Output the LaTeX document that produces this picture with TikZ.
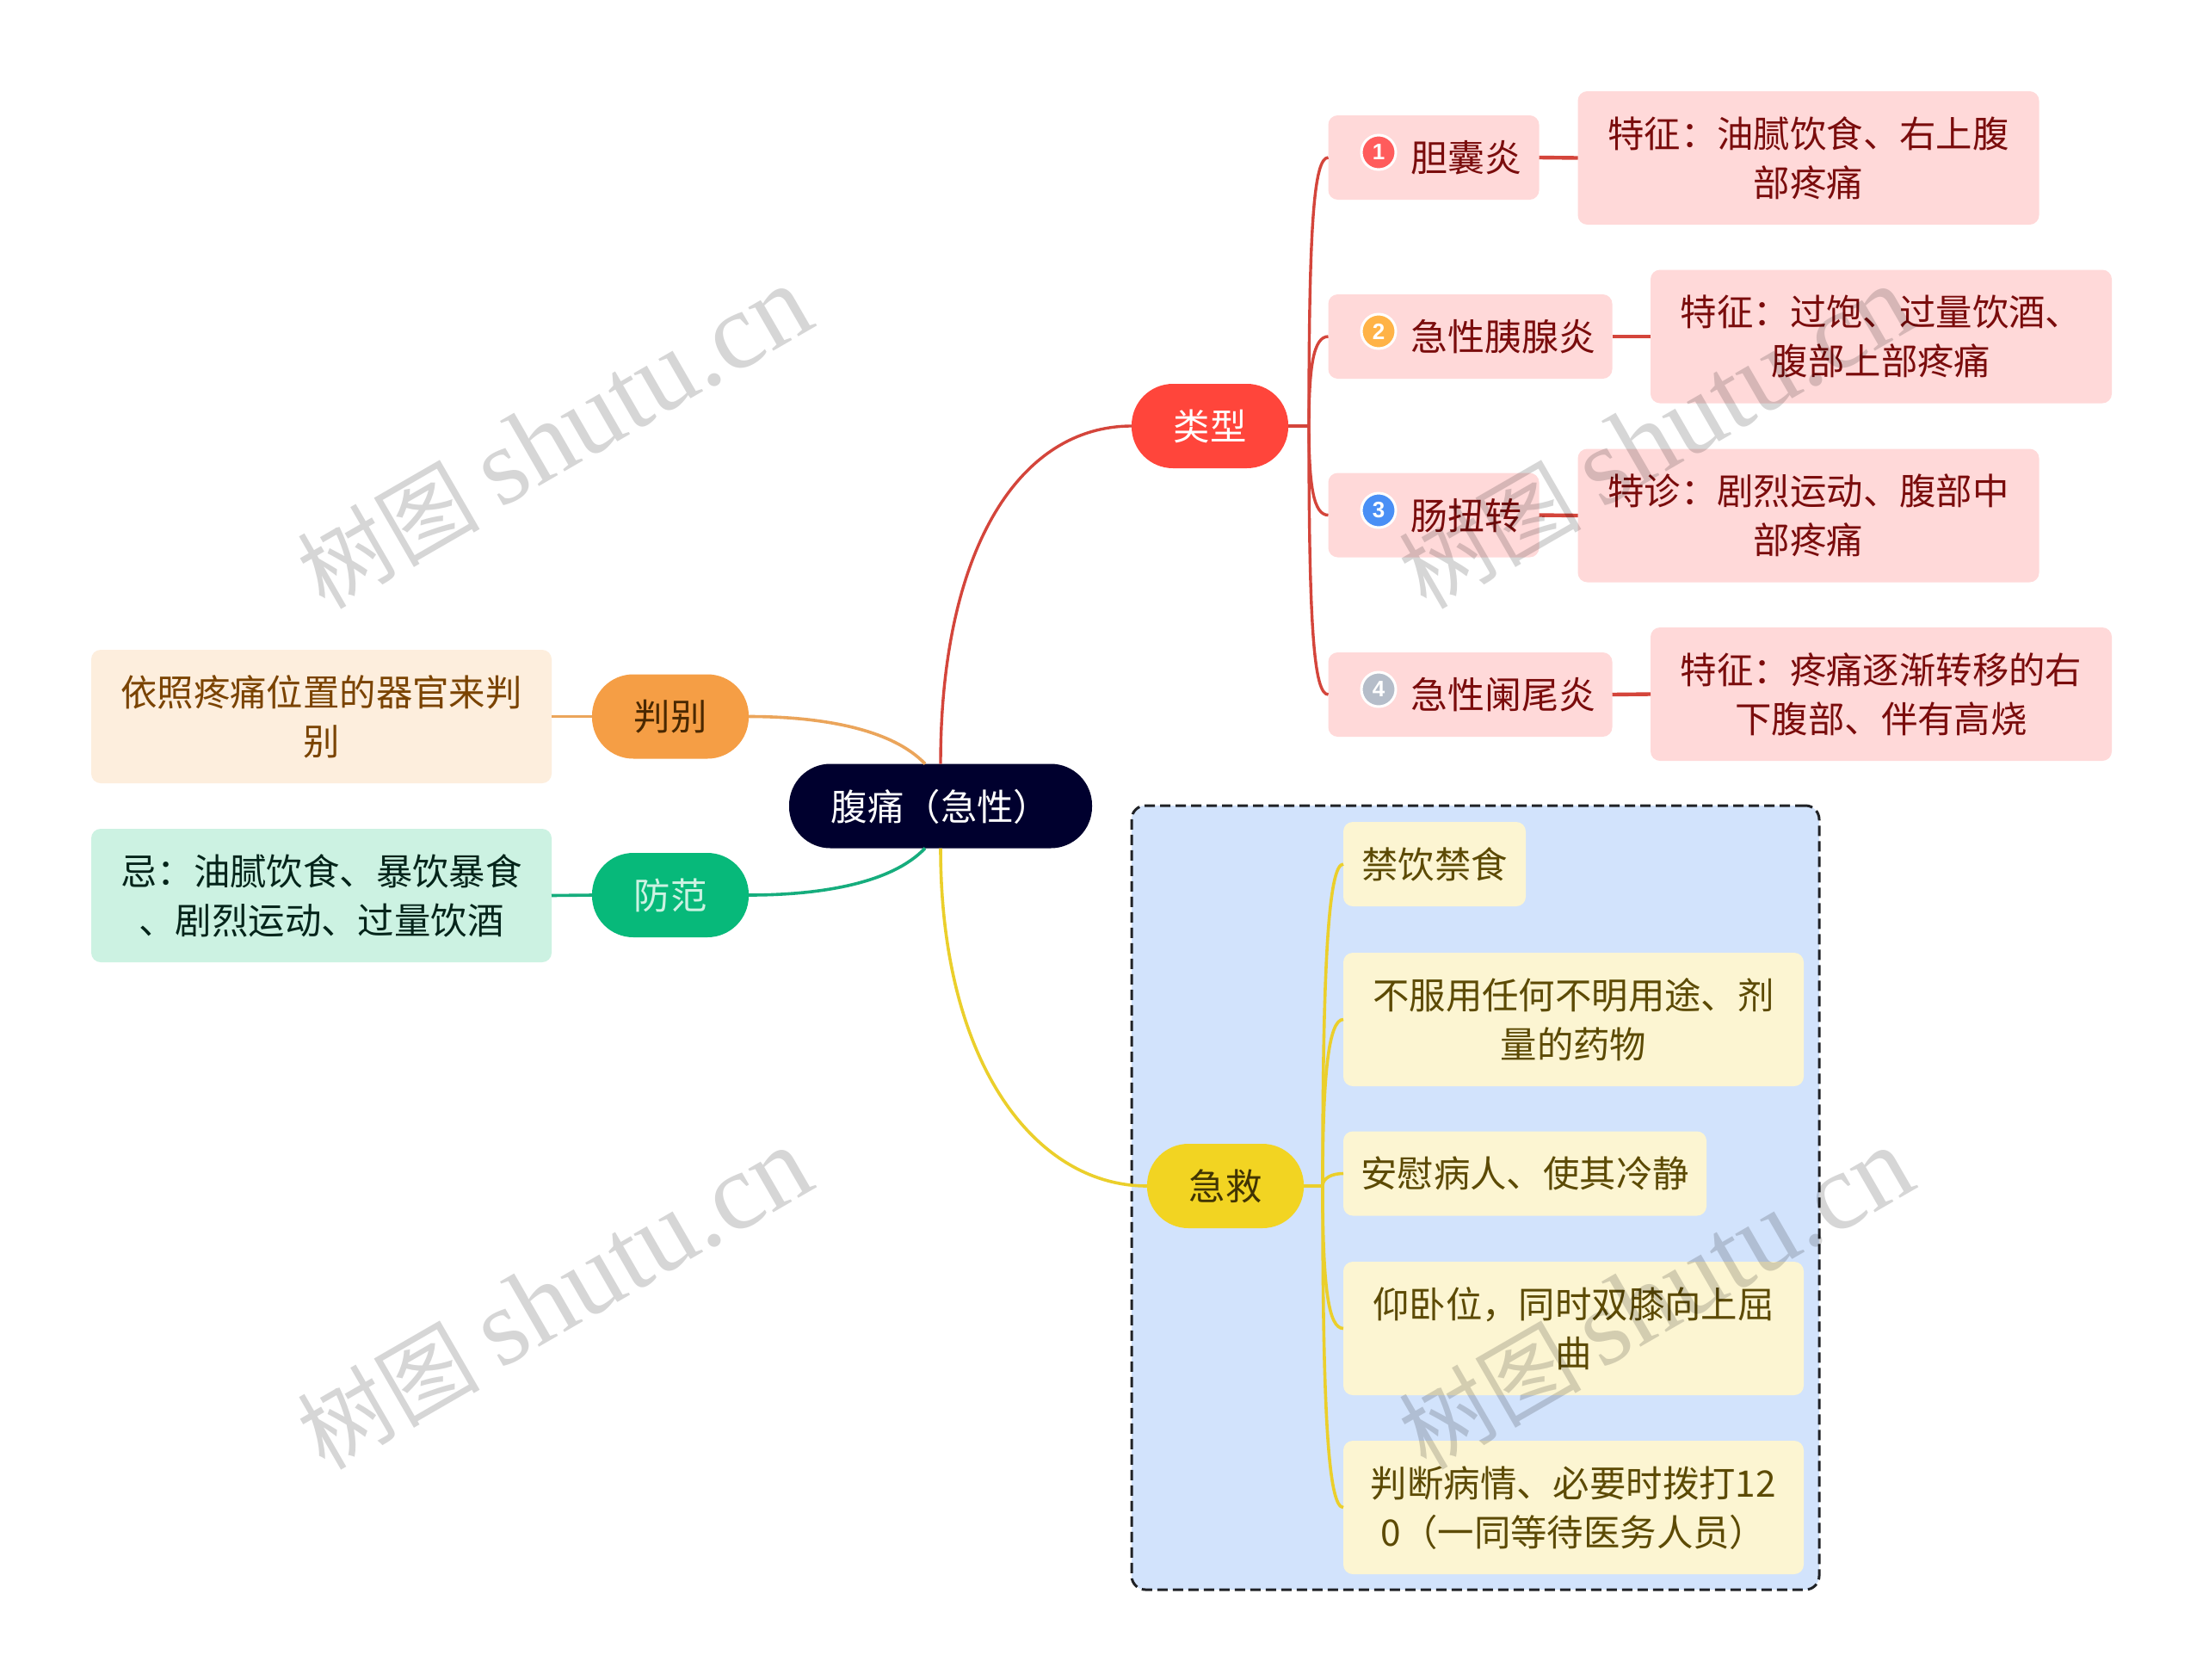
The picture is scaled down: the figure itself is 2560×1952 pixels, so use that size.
\documentclass[tikz,border=0pt]{standalone}
\usepackage{fontspec}
\setmainfont{Noto Sans CJK SC}
\newfontfamily\wmcjk{Noto Sans CJK SC}
\newfontfamily\wmlat{Liberation Serif}
\newfontfamily\numfont{Liberation Sans}
\definecolor{cRed}{HTML}{FF453B}
\definecolor{cRedBox}{HTML}{FFD9D9}
\definecolor{cRedTxt}{HTML}{7A0C0C}
\definecolor{cRedLine}{HTML}{D4453B}
\definecolor{cOrg}{HTML}{F59E45}
\definecolor{cOrgBox}{HTML}{FDEEDD}
\definecolor{cOrgTxt}{HTML}{7A4300}
\definecolor{cOrgLine}{HTML}{EBA55B}
\definecolor{cGrn}{HTML}{07B97A}
\definecolor{cGrnBox}{HTML}{CCF2E2}
\definecolor{cGrnTxt}{HTML}{04241A}
\definecolor{cGrnLine}{HTML}{16AD7D}
\definecolor{cYel}{HTML}{F2D422}
\definecolor{cYelBox}{HTML}{FCF5D2}
\definecolor{cYelTxt}{HTML}{5C4A04}
\definecolor{cYelLine}{HTML}{EBCF2B}
\definecolor{cPanel}{HTML}{D2E3FC}
\definecolor{cDark}{HTML}{00002E}
\definecolor{cBadgeA}{HTML}{FF5C5C}
\definecolor{cBadgeB}{HTML}{FFB347}
\definecolor{cBadgeC}{HTML}{4A8FF5}
\definecolor{cBadgeD}{HTML}{B5BDC9}
\tikzset{
  x=1pt,y=-1pt,
  base/.style={inner sep=0pt,outer sep=0pt,align=center,text depth=3pt,font=\fontsize{42.4}{57}\selectfont},
  pill/.style={base,rounded corners=48pt,minimum height=98pt},
  leaf/.style={base,rounded corners=11pt},
  redleaf/.style={leaf,fill=cRedBox,text=cRedTxt},
  iconleaf/.style={redleaf,font=\fontsize{43}{57}\selectfont},
  orgleaf/.style={leaf,fill=cOrgBox,text=cOrgTxt},
  grnleaf/.style={leaf,fill=cGrnBox,text=cGrnTxt},
  yelleaf/.style={leaf,fill=cYelBox,text=cYelTxt},
  redlink/.style={draw=cRedLine,line width=3.4pt},
  redstub/.style={draw=cRedLine,line width=4.4pt},
  orglink/.style={draw=cOrgLine,line width=3.6pt},
  grnlink/.style={draw=cGrnLine,line width=3.6pt},
  yellink/.style={draw=cYelLine,line width=3.6pt},
  badge/.style={circle,inner sep=0pt,minimum size=40pt,draw=white,line width=3pt,text=white,font=\numfont\bfseries\fontsize{26}{26}\selectfont},
  wmark/.style={rotate=30,text=black,opacity=.16,inner sep=0pt}
}
\begin{document}
\begin{tikzpicture}
\useasboundingbox[fill=white] (0,0) rectangle (2560,1952);
% group panel
\node[draw=black!85!cPanel,fill=cPanel,line width=3pt,dash pattern=on 12pt off 6pt,rounded corners=16pt,minimum width=799pt,minimum height=911pt,inner sep=0pt] (panel) at (1714.5,1391.5) {};
% centre and branches
\node[pill,fill=cDark,text=white,minimum width=352pt] (root) at (1093,936.5) {腹痛（急性）};
\node[pill,fill=cRed,text=white,minimum width=182pt] (lx) at (1406,495) {类型};
\node[pill,fill=cOrg,text=cOrgTxt!60!black,minimum width=182pt] (pb) at (779,832.5) {判别};
\node[pill,fill=cGrn,text=cGrnBox,minimum width=182pt] (ff) at (779,1040) {防范};
\node[pill,fill=cYel,text=cYelTxt!70!black,minimum width=182pt] (jj) at (1424,1378) {急救};
% red leaves
\node[iconleaf,minimum width=245pt,minimum height=98pt,text width=245pt] (a1) at (1666,183) {\hspace*{96pt}胆囊炎\hfill\null};
\node[iconleaf,minimum width=330pt,minimum height=98pt,text width=330pt] (a2) at (1708.5,391) {\hspace*{96pt}急性胰腺炎\hfill\null};
\node[iconleaf,minimum width=245pt,minimum height=98pt,text width=245pt] (a3) at (1666,598.5) {\hspace*{96pt}肠扭转\hfill\null};
\node[iconleaf,minimum width=330pt,minimum height=98pt,text width=330pt] (a4) at (1708.5,807) {\hspace*{96pt}急性阑尾炎\hfill\null};
\node[redleaf,minimum width=536pt,minimum height=155pt] (b1) at (2101.5,183.5) {特征：油腻饮食、右上腹\\部疼痛};
\node[redleaf,minimum width=536pt,minimum height=155pt] (b2) at (2186,391) {特征：过饱、过量饮酒、\\腹部上部疼痛};
\node[redleaf,minimum width=536pt,minimum height=155pt] (b3) at (2101.5,599) {特诊：剧烈运动、腹部中\\部疼痛};
\node[redleaf,minimum width=536pt,minimum height=155pt] (b4) at (2186,806.5) {特征：疼痛逐渐转移的右\\下腹部、伴有高烧};
% badges
\node[badge,fill=cBadgeA] (n1) at (1602,177) {1};
\node[badge,fill=cBadgeB] (n2) at (1602,385) {2};
\node[badge,fill=cBadgeC] (n3) at (1602,593) {3};
\node[badge,fill=cBadgeD] (n4) at (1602,801) {4};
% left leaves
\node[orgleaf,minimum width=535pt,minimum height=155pt] (c1) at (373.5,832.5) {依照疼痛位置的器官来判\\别};
\node[grnleaf,minimum width=535pt,minimum height=155pt] (d1) at (373.5,1040.5) {忌：油腻饮食、暴饮暴食\\、剧烈运动、过量饮酒};
% yellow leaves
\node[yelleaf,minimum width=212pt,minimum height=98pt] (e1) at (1667,1004) {禁饮禁食};
\node[yelleaf,minimum width=535pt,minimum height=155pt] (e2) at (1828.5,1184.5) {不服用任何不明用途、剂\\量的药物};
\node[yelleaf,minimum width=422pt,minimum height=98pt] (e3) at (1772,1363.5) {安慰病人、使其冷静};
\node[yelleaf,minimum width=535pt,minimum height=155pt] (e4) at (1828.5,1543.5) {仰卧位，同时双膝向上屈\\曲};
\node[yelleaf,minimum width=535pt,minimum height=155pt] (e5) at (1828.5,1751.5) {判断病情、必要时拨打12\\0（一同等待医务人员）};
% main connectors
\draw[redlink] (root.north) .. controls ++(0,-250) and ([xshift=-130]lx.west) .. (lx.west);
\draw[yellink] (root.south) .. controls ++(0,250) and ([xshift=-130]jj.west) .. (jj.west);
\draw[orglink] ([xshift=-18]root.north) .. controls ++(-40,-42) and ([xshift=80]pb.east) .. (pb.east);
\draw[grnlink] ([xshift=-18]root.south) .. controls ++(-40,42) and ([xshift=80]ff.east) .. (ff.east);
\draw[orglink] (c1.east) -- (pb.west);
\draw[grnlink] (d1.east) -- (ff.west);
% red spine
\coordinate (rs) at ([xshift=24]lx.east);
\draw[redlink,line width=3.6pt] (lx.east) -- (rs);
\draw[redlink] (rs) .. controls ++(0,-230) and ([xshift=-17]a1.west) .. (a1.west);
\draw[redlink] (rs) .. controls ++(0,-70) and ([xshift=-17]a2.west) .. (a2.west);
\draw[redlink] (rs) .. controls ++(0,70) and ([xshift=-17]a3.west) .. (a3.west);
\draw[redlink] (rs) .. controls ++(0,230) and ([xshift=-17]a4.west) .. (a4.west);
\draw[redstub] (a1.east) -- (b1.west);
\draw[redstub] (a2.east) -- (b2.west);
\draw[redstub] (a3.east) -- (b3.west);
\draw[redstub] (a4.east) -- (b4.west);
% yellow spine
\coordinate (ys) at ([xshift=22]jj.east);
\draw[yellink] (jj.east) -- (ys);
\draw[yellink] (ys) .. controls ++(0,-260) and ([xshift=-17]e1.west) .. (e1.west);
\draw[yellink] (ys) .. controls ++(0,-130) and ([xshift=-17]e2.west) .. (e2.west);
\draw[yellink] (ys) .. controls ++(0,-10) and ([xshift=-12]e3.west) .. (e3.west);
\draw[yellink] (ys) .. controls ++(0,120) and ([xshift=-17]e4.west) .. (e4.west);
\draw[yellink] (ys) .. controls ++(0,270) and ([xshift=-17]e5.west) .. (e5.west);
% watermarks
\foreach \wx/\wy/\wn in {644/509/w1,1924/509/w2,644/1509/w3,1924/1509/w4}{
  \node[wmark] (\wn) at (\wx,\wy) {\wmcjk\fontsize{106}{106}\selectfont 树图 \wmlat\fontsize{127}{127}\selectfont shutu.cn};
}
\end{tikzpicture}
\end{document}
